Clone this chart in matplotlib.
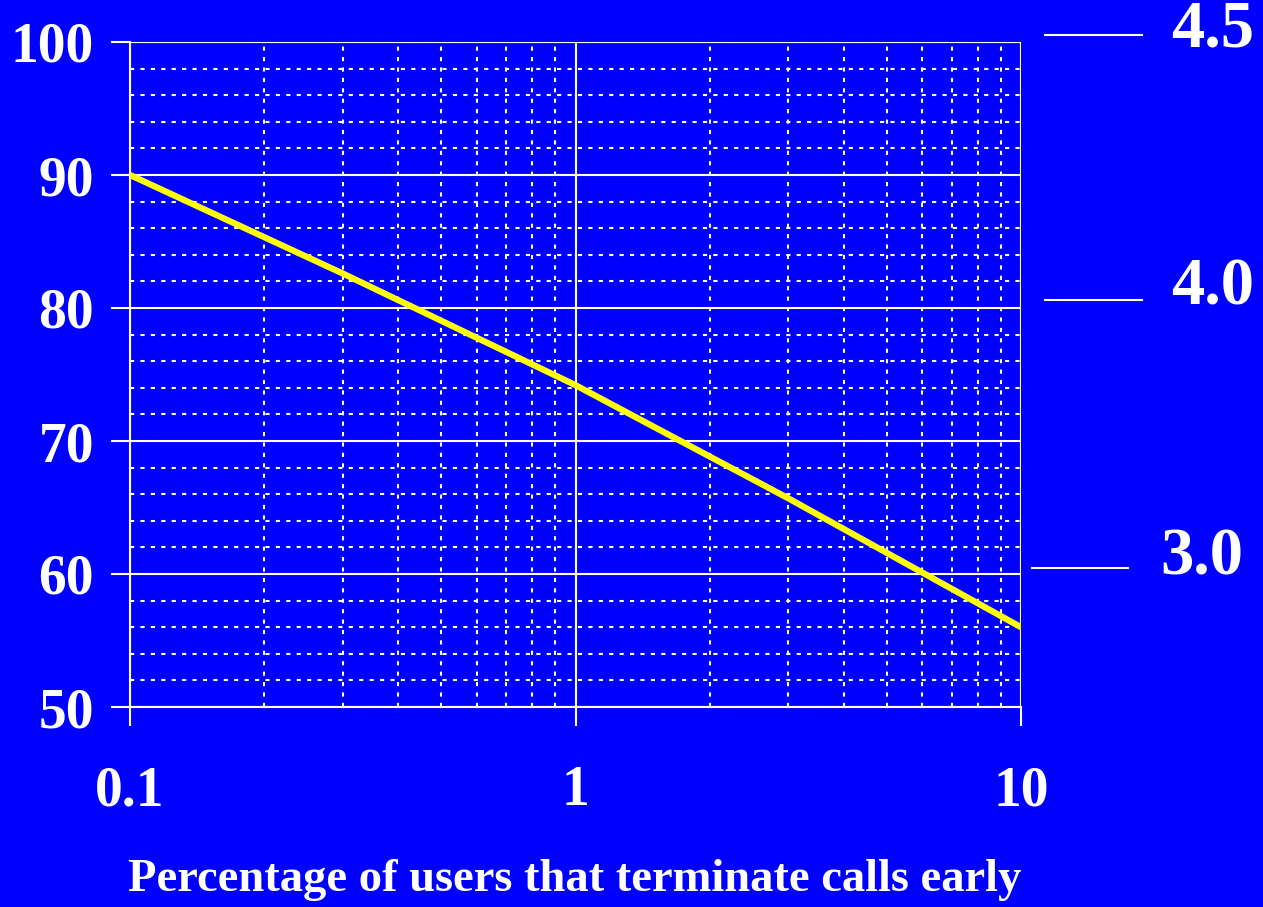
import matplotlib
matplotlib.use("Agg")
import matplotlib.pyplot as plt
from matplotlib.ticker import LogLocator, MultipleLocator, FixedLocator
from matplotlib.lines import Line2D

# данные
early_pct = [0.1, 0.3, 1, 3, 10]
quality = [90, 82.6, 74.2, 65.7, 56]
x_ticks = [0.1, 1, 10]
x_tick_labels = ["0.1", "1", "10"]
y_ticks = [50, 60, 70, 80, 90, 100]
mos_labels = ["4.5", "4.0", "3.0"]

BLUE = "#0000ff"
plt.rcParams["font.family"] = ["Liberation Serif", "DejaVu Serif"]
plt.rcParams["font.weight"] = "bold"

fig = plt.figure(figsize=(12.63, 9.07), dpi=100, facecolor=BLUE)
ax = fig.add_axes([130 / 1263, 1 - 707 / 907, 891 / 1263, 665 / 907])
ax.set_facecolor(BLUE)

ax.plot(early_pct, quality, color="#ffff00", lw=4.5, solid_capstyle="round", zorder=5)

ax.set_xscale("log")
ax.set_xlim(0.1, 10)
ax.set_ylim(50, 100)

ax.xaxis.set_major_locator(FixedLocator(x_ticks))
ax.set_xticklabels(x_tick_labels)
ax.xaxis.set_minor_locator(LogLocator(base=10, subs=range(2, 10)))
ax.xaxis.set_minor_formatter(plt.NullFormatter())
ax.yaxis.set_major_locator(FixedLocator(y_ticks))
ax.yaxis.set_minor_locator(MultipleLocator(2))

ax.grid(which="major", color="white", lw=1.5, ls="-")
ax.grid(which="minor", color="white", lw=1.5, ls=(0, (2, 3)))

for s in ["top", "right"]:
    ax.spines[s].set_visible(False)
for s in ["left", "bottom"]:
    ax.spines[s].set_color("white")
    ax.spines[s].set_linewidth(1.5)
# верхняя и правая границы сплошными линиями
ax.axhline(100, color="white", lw=1.5)
ax.axvline(10, color="white", lw=1.5)

ax.tick_params(which="major", direction="out", length=14, width=1.5, color="white",
               labelcolor="white", labelsize=40)
ax.tick_params(axis="y", which="major", pad=12)
ax.tick_params(axis="x", which="major", pad=28)
ax.tick_params(which="minor", length=0)
for lab in ax.get_xticklabels() + ax.get_yticklabels():
    lab.set_fontweight("bold")

fig.text(575 / 1263, 1 - 880 / 907, "Percentage of users that terminate calls early",
         color="white", fontsize=33.5, fontweight="bold", ha="center", va="center")

# шкала MOS справа
mos_pos = [(1045, 1142, 35, 1213, 30), (1045, 1142, 300, 1213, 288), (1032, 1128, 568, 1202, 558)]
for (x0, x1, yl, xt, yt), lab in zip(mos_pos, mos_labels):
    fig.add_artist(Line2D([x0 / 1263, x1 / 1263], [1 - yl / 907] * 2, color="white", lw=1.5))
    fig.text(xt / 1263, 1 - yt / 907, lab, color="white", fontsize=48, fontweight="bold",
             ha="center", va="center")

fig.savefig("out.png", dpi=100, facecolor=BLUE)
